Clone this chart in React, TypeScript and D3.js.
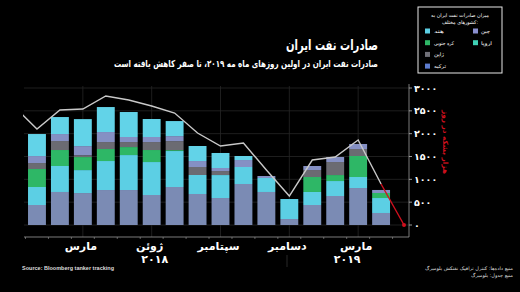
import React from "react";
import * as d3 from "d3";

const months = ["2018-01","2018-02","2018-03","2018-04","2018-05","2018-06","2018-07","2018-08","2018-09","2018-10","2018-11","2018-12","2019-01","2019-02","2019-03","2019-04","2019-05"];
const china = [438, 723, 700, 766, 766, 657, 832, 679, 591, 898, 723, 131, 438, 635, 810, 263, 0];
const india = [394, 569, 503, 635, 766, 722, 788, 416, 503, 372, 306, 438, 285, 328, 241, 328, 0];
const korea = [394, 350, 285, 263, 175, 263, 20, 0, 0, 0, 0, 0, 328, 131, 460, 110, 0];
const japan = [131, 197, 40, 153, 110, 175, 197, 175, 88, 0, 0, 0, 153, 285, 153, 0, 0];
const turkey = [153, 153, 200, 219, 110, 110, 110, 131, 66, 153, 44, 0, 88, 110, 110, 66, 0];
const europe = [482, 372, 591, 547, 547, 394, 329, 329, 329, 88, 0, 0, 0, 0, 0, 0, 0];
// total exports line (first value = Dec 2017)
const totalPrev = 2600;
const total = [2102, 2518, 2540, 2825, 2737, 2606, 2452, 2014, 1730, 1795, 1204, 635, 1423, 1489, 1861, 898, 0];

const seriesKeys = ["china", "india", "korea", "japan", "turkey", "europe"];
const seriesColors = ["#7b8bb4", "#5ccfe4", "#2eb766", "#6b6b72", "#8590c4", "#62d3e8"];

const yTicks = [0, 500, 1000, 1500, 2000, 2500, 3000];
const monthLabels = [
  { m: "2018-03", t: "مارس" },
  { m: "2018-06", t: "ژوئن" },
  { m: "2018-09", t: "سپتامبر" },
  { m: "2018-12", t: "دسامبر" },
  { m: "2019-03", t: "مارس" },
];
const yearLabels = [
  { m: "2018-06", t: "۲۰۱۸" },
  { m: "2019-03", t: "۲۰۱۹" },
];
const legendItems = [
  { t: "هند", c: "#5ccfe4", col: 0 },
  { t: "کره جنوبی", c: "#2eb766", col: 0 },
  { t: "ژاپن", c: "#707078", col: 0 },
  { t: "ترکیه", c: "#5d7ccf", col: 0 },
  { t: "چین", c: "#8a8fcf", col: 1 },
  { t: "اروپا", c: "#3fd0b4", col: 1 },
];

const fa = (n: number) => String(n).replace(/\d/g, (d) => "۰۱۲۳۴۵۶۷۸۹"[+d]);
const FONT = "DejaVu Sans";

export default function App() {
  const W = 520, H = 292;
  const x = d3.scaleBand<string>().domain(months).range([25.5, 415.5]).paddingInner(0.22).paddingOuter(0.11);
  const y = d3.scaleLinear().domain([0, 3000]).range([225, 88]);
  const step = x.step();
  const cx = (m: string) => (x(m) as number) + x.bandwidth() / 2;

  const table = months.map((m, i) => ({
    month: m, china: china[i], india: india[i], korea: korea[i], japan: japan[i], turkey: turkey[i], europe: europe[i],
  }));
  const stacked = d3.stack<any>().keys(seriesKeys)(table);

  const linePts: [number, number][] = [[cx(months[0]) - step, y(totalPrev)], ...months.map((m, i) => [cx(m), y(total[i])] as [number, number])];
  const line = d3.line();
  const n = linePts.length;
  const whitePts = linePts.slice(0, n - 1);
  const redPts = linePts.slice(n - 2);

  const axisX = 409;
  const baseY = 237;

  return (
    <svg width={W} height={H} style={{ position: "absolute", left: 0, top: 0, background: "#000" }} fontFamily={FONT}>
      <rect x={0} y={0} width={W} height={H} fill="#000" />
      <defs>
        <clipPath id="plotclip">
          <rect x={23} y={60} width={400} height={200} />
        </clipPath>
      </defs>
      {/* gridlines */}
      {yTicks.map((t) => (
        <line key={"g" + t} x1={24} x2={axisX} y1={y(t)} y2={y(t)} stroke="#262626" strokeWidth={0.8} />
      ))}
      {["2018-03", "2018-06", "2018-09", "2018-12", "2019-03"].map((m) => (
        <line key={"v" + m} x1={cx(m)} x2={cx(m)} y1={86} y2={baseY} stroke="#262626" strokeWidth={0.8} />
      ))}
      {/* bars */}
      {stacked.map((s, si) => (
        <g key={s.key} fill={seriesColors[si]}>
          {s.map((d, i) => (d[1] - d[0] > 0 ? (
            <rect key={i} x={x(months[i])} width={x.bandwidth()} y={y(d[1])} height={y(d[0]) - y(d[1])} />
          ) : null))}
        </g>
      ))}
      {/* total line */}
      <g clipPath="url(#plotclip)">
        <path d={line(whitePts) || ""} fill="none" stroke="#c9c9c9" strokeWidth={1.4} />
        <path d={line(redPts) || ""} fill="none" stroke="#d0101e" strokeWidth={1.4} />
      </g>
      <circle cx={redPts[1][0]} cy={redPts[1][1]} r={2} fill="#d0101e" />
      {/* axes */}
      <line x1={24} x2={axisX} y1={baseY} y2={baseY} stroke="#9a9a9a" strokeWidth={0.8} />
      {months.map((m, i) => (
        <line key={"xt" + i} x1={(x(m) as number) - (step - x.bandwidth()) / 2} x2={(x(m) as number) - (step - x.bandwidth()) / 2} y1={baseY} y2={baseY + 2} stroke="#9a9a9a" strokeWidth={0.6} />
      ))}
      <line x1={axisX} x2={axisX} y1={84} y2={baseY} stroke="#9a9a9a" strokeWidth={0.8} />
      {yTicks.map((t) => (
        <g key={"yt" + t}>
          <line x1={axisX} x2={axisX + 3} y1={y(t)} y2={y(t)} stroke="#bbb" strokeWidth={0.8} />
          <text x={axisX + 5} y={y(t) + 3.5} fill="#fff" fontSize={9.5} fontWeight="bold">{fa(t)}</text>
        </g>
      ))}
      <text transform="translate(443,142) rotate(90)" fill="#d0101e" fontSize={7} fontWeight="bold" textAnchor="middle" textLength={64} lengthAdjust="spacingAndGlyphs">هزار بشکه در روز</text>
      {/* month labels */}
      {monthLabels.map((l, i) => (
        <text key={"ml" + i} x={cx(l.m) - 2} y={250} fill="#fff" fontSize={11} fontWeight="bold" textAnchor="middle">{l.t}</text>
      ))}
      {yearLabels.map((l, i) => (
        <text key={"yl" + i} x={cx(l.m) + (i === 0 ? 3 : -11)} y={263} fill="#fff" fontSize={11} fontWeight="bold" textAnchor="middle">{l.t}</text>
      ))}
      <line x1={287} x2={287} y1={255} y2={267} stroke="#333" strokeWidth={0.8} />
      {/* titles */}
      <text x={378} y={50} fill="#fff" fontSize={14} fontWeight="bold" textAnchor="end" textLength={92} lengthAdjust="spacingAndGlyphs">صادرات نفت ایران</text>
      <text x={378} y={67} fill="#fff" fontSize={9.5} fontWeight="bold" textAnchor="end" textLength={264} lengthAdjust="spacingAndGlyphs">صادرات نفت ایران در اولین روزهای ماه مه ۲۰۱۹، تا صفر کاهش یافته است</text>
      {/* legend */}
      <rect x={418} y={7} width={84} height={66} fill="#000" stroke="#e8e8e8" strokeWidth={1} />
      <text x={460} y={17} fill="#fff" fontSize={5} textAnchor="middle" textLength={58} lengthAdjust="spacingAndGlyphs">میزان صادرات نفت ایران به</text>
      <text x={460} y={24} fill="#fff" fontSize={5} textAnchor="middle" textLength={36} lengthAdjust="spacingAndGlyphs">کشورهای مختلف:</text>
      {legendItems.map((it, i) => {
        const row = it.col === 0 ? i : i - 4;
        const sx = it.col === 0 ? 425 : 473;
        const yy = 31 + row * 11.7;
        const lens: Record<string, number> = { "هند": 10, "کره جنوبی": 20, "ژاپن": 10, "ترکیه": 12, "چین": 9, "اروپا": 11 };
        return (
          <g key={"lg" + i}>
            <rect x={sx} y={yy - 2.5} width={5} height={5} fill={it.c} />
            <text x={it.col === 0 ? 434 : 481} y={yy + 2} fill="#fff" fontSize={5} textAnchor="start" textLength={lens[it.t]} lengthAdjust="spacingAndGlyphs">{it.t}</text>
          </g>
        );
      })}
      {/* sources */}
      <text x={22} y={270} fill="#ddd" fontSize={5.5} fontWeight="bold" fontFamily="Liberation Sans">Source: Bloomberg tanker tracking</text>
      <text x={513} y={270} fill="#ddd" fontSize={4.8} textAnchor="end" textLength={88} lengthAdjust="spacingAndGlyphs">منبع داده‌ها: کنترل ترافیک نفتکش بلومبرگ</text>
      <text x={513} y={277} fill="#ddd" fontSize={4.8} textAnchor="end" textLength={42} lengthAdjust="spacingAndGlyphs">منبع جدول: بلومبرگ</text>
    </svg>
  );
}
